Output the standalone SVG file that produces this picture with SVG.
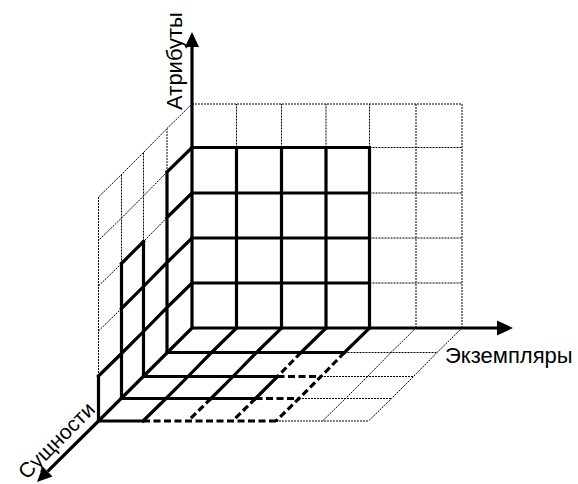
<svg xmlns="http://www.w3.org/2000/svg" width="578" height="484" viewBox="0 0 578 484">
<style>
.dot{fill:none;stroke:#000;stroke-width:1;stroke-dasharray:2 1}
.thick{fill:none;stroke:#000;stroke-width:3.2;stroke-linecap:square;stroke-linejoin:miter}
.dash{fill:none;stroke:#000;stroke-width:3.2;stroke-dasharray:7 3.5}
.axis{fill:none;stroke:#000;stroke-width:3.2}
.head{fill:#000;stroke:none}
.lbl{font-family:"Liberation Sans",Arial,sans-serif;font-size:22px;fill:#000}
</style>
<rect width="578" height="484" fill="#fff"/>
<g id="grid-dotted">
<path class="dot" d="M192 104H462 M369.5 283H462 M369.5 238H462 M369.5 193H462 M369.5 147.5H462 M236.5 147.5V104 M281.5 147.5V104 M326 147.5V104 M369.5 147.5V104 M416 328V104 M462 328V104"/>
<path class="dot" d="M192 104L167 128.5L143.5 152.5L121.5 174.5L98.5 197 M167 172L143.5 196L121.5 218L98.5 240.5 M167 217.5L143.5 241.5 M121.5 263.5L98.5 286 M121.5 308.5L98.5 331 M167 172V128.5 M143.5 241.5V152.5 M121.5 263.5V174.5 M98.5 376V197"/>
<path class="dot" d="M344.5 352.5H437 M321 376.5H413.5 M299 398.5H391.5 M276 421H368.5 M416 328L391 352.5L367.5 376.5L345.5 398.5L322.5 421 M462 328L437 352.5L413.5 376.5L391.5 398.5L368.5 421"/>
</g>
<g id="floor-dashed">
<path class="dash" d="M277.5 376.5H321 M255.5 398.5H299 M143 421H276 M211 398.5L188 421 M301 352.5L277.5 376.5 M255.5 398.5L232.5 421 M344.5 352.5L321 376.5L299 398.5L276 421"/>
</g>
<g id="back-wall">
<path class="thick" d="M192 283H369.5 M192 238H369.5 M192 193H369.5 M192 147.5H369.5 M236.5 328V147.5 M281.5 328V147.5 M326 328V147.5 M369.5 328V147.5"/>
</g>
<g id="left-wall">
<path class="thick" d="M167 352.5V172 M143.5 376.5V241.5 M121.5 398.5V263.5 M98.5 421V376 M192 283L167 307.5L143.5 331.5L121.5 353.5L98.5 376 M192 238L167 262.5L143.5 286.5L121.5 308.5 M192 193L167 217.5 M143.5 241.5L121.5 263.5 M192 147.5L167 172"/>
</g>
<g id="floor">
<path class="thick" d="M167 352.5H344.5 M143.5 376.5H277.5 M121.5 398.5H255.5 M98.5 421H143 M236.5 328L211.5 352.5L188 376.5L166 398.5L143 421 M281.5 328L256.5 352.5L233 376.5L211 398.5 M326 328L301 352.5 M277.5 376.5L255.5 398.5 M369.5 328L344.5 352.5"/>
</g>
<g id="axes">
<path class="axis" d="M192 328V46"/>
<polygon class="head" points="192,32 185,47 199,47"/>
<path class="axis" d="M192 328H498"/>
<polygon class="head" points="513,328 497,320.5 497,335.5"/>
<path class="axis" d="M192 328L98.5 421L47.6 471.4"/>
<polygon class="head" points="37,482 52.5,476.4 42.7,466.4"/>
</g>
<g id="labels">
<text class="lbl" text-anchor="middle" transform="translate(182,61) rotate(-90)">Атрибуты</text>
<text class="lbl" x="445" y="363">Экземпляры</text>
<text class="lbl" text-anchor="middle" style="font-size:21px" transform="translate(61.5,445.5) rotate(-45)">Сущности</text>
</g>
</svg>
